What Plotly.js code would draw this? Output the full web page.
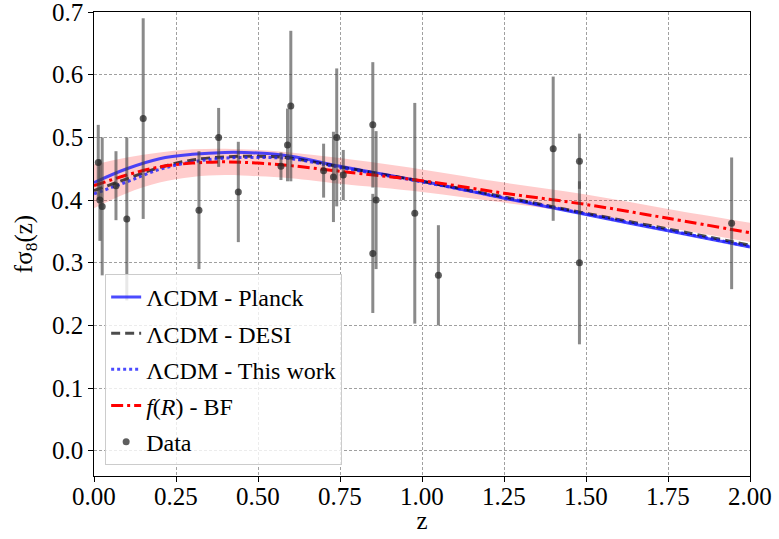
<!DOCTYPE html>
<html>
<head>
<meta charset="utf-8">
<script src="https://cdn.plot.ly/plotly-3.0.1.min.js"></script>
<style>
html,body{margin:0;padding:0;background:#fff;}
#chart{width:779px;height:539px;}
</style>
</head>
<body>
<div id="chart"></div>
<script>
// Model curves
const zModel = [0, 0.1, 0.2, 0.3, 0.4, 0.5, 0.6, 0.75, 1.0, 1.25, 1.5, 1.75, 2.0];
const planck = [0.428, 0.450, 0.466, 0.473, 0.476, 0.475, 0.470, 0.454, 0.430, 0.403, 0.377, 0.351, 0.325];
const desi = [0.415, 0.434, 0.452, 0.464, 0.469, 0.470, 0.467, 0.453, 0.430, 0.405, 0.379, 0.354, 0.328];
const thisWork = [0.410, 0.429, 0.449, 0.461, 0.467, 0.468, 0.466, 0.452, 0.429, 0.404, 0.378, 0.352, 0.326];
const fR = [0.423, 0.440, 0.453, 0.459, 0.461, 0.459, 0.455, 0.446, 0.431, 0.411, 0.393, 0.371, 0.348];
const fRUpper = [0.457, 0.468, 0.476, 0.481, 0.482, 0.480, 0.476, 0.467, 0.449, 0.428, 0.409, 0.386, 0.364];
const fRLower = [0.387, 0.411, 0.428, 0.437, 0.440, 0.438, 0.435, 0.426, 0.413, 0.396, 0.378, 0.356, 0.333];

// Data points
const zData = [0.013, 0.018, 0.025, 0.067, 0.10, 0.15, 0.32, 0.38, 0.44, 0.57, 0.59, 0.60, 0.70, 0.73, 0.74, 0.76, 0.85, 0.85, 0.86, 0.978, 1.05, 1.40, 1.48, 1.48, 1.944];
const fsData = [0.46, 0.40, 0.39, 0.423, 0.37, 0.53, 0.384, 0.50, 0.413, 0.454, 0.488, 0.55, 0.447, 0.437, 0.50, 0.44, 0.52, 0.315, 0.40, 0.379, 0.28, 0.482, 0.462, 0.30, 0.363];
const fsErr = [0.06, 0.065, 0.11, 0.055, 0.13, 0.16, 0.094, 0.047, 0.08, 0.022, 0.058, 0.12, 0.043, 0.072, 0.11, 0.04, 0.10, 0.095, 0.11, 0.176, 0.08, 0.115, 0.044, 0.13, 0.105];

// Tick values and labels
const xTicks = [0, 0.25, 0.5, 0.75, 1.0, 1.25, 1.5, 1.75, 2.0];
const xTickLabels = ['0.00', '0.25', '0.50', '0.75', '1.00', '1.25', '1.50', '1.75', '2.00'];
const yTicks = [0.0, 0.1, 0.2, 0.3, 0.4, 0.5, 0.6, 0.7];
const yTickLabels = ['0.0', '0.1', '0.2', '0.3', '0.4', '0.5', '0.6', '0.7'];

const FONT = "Liberation Serif";
const TICKSIZE = 25;

const traces = [
  {x: zModel, y: fRLower, mode: 'lines', line: {width: 0, shape: 'spline'}, showlegend: false, hoverinfo: 'skip', legendgroup: 'b1'},
  {x: zModel, y: fRUpper, mode: 'lines', line: {width: 0, shape: 'spline'}, fill: 'tonexty', fillcolor: 'rgba(255,0,0,0.2)', showlegend: false, hoverinfo: 'skip', legendgroup: 'b2'},
  {x: zModel, y: planck, mode: 'lines', name: 'ΛCDM - Planck', legendgroup: 'g1', line: {color: 'rgba(30,30,255,0.8)', width: 3, shape: 'spline'}},
  {x: zModel, y: desi, mode: 'lines', name: 'ΛCDM - DESI', legendgroup: 'g2', line: {color: 'rgba(0,0,0,0.7)', width: 3, dash: '9px,5px', shape: 'spline'}},
  {x: zModel, y: thisWork, mode: 'lines', name: 'ΛCDM - This work', legendgroup: 'g3', line: {color: 'rgba(30,30,255,0.8)', width: 3, dash: 'dot', shape: 'spline'}},
  {x: zModel, y: fR, mode: 'lines', name: '<i>f</i>(<i>R</i>) - BF', legendgroup: 'g4', line: {color: '#ff0000', width: 3, dash: '12px,4px,3px,4px', shape: 'spline'}},
  {x: zData, y: fsData, mode: 'markers', name: 'Data', legendgroup: 'g5',
   marker: {color: 'rgba(40,40,40,0.75)', size: 7},
   error_y: {type: 'data', array: fsErr, visible: true, color: 'rgba(60,60,60,0.6)', thickness: 3, width: 0}}
];

// Tick labels placed through the axes' own scales
const annotations = [];
xTicks.forEach((v, i) => annotations.push({
  x: v, xref: 'x', y: 0, yref: 'paper', yanchor: 'top', xanchor: 'center', yshift: -5,
  text: xTickLabels[i], showarrow: false, font: {family: FONT, size: TICKSIZE, color: '#000'}
}));
yTicks.forEach((v, i) => annotations.push({
  x: 0, xref: 'paper', y: v, yref: 'y', xanchor: 'right', yanchor: 'middle', xshift: -9,
  text: yTickLabels[i], showarrow: false, font: {family: FONT, size: TICKSIZE, color: '#000'}
}));

const layout = {
  width: 779, height: 539,
  margin: {l: 94, r: 29, t: 12, b: 63},
  paper_bgcolor: '#fff', plot_bgcolor: '#fff',
  font: {family: FONT, color: '#000', size: 24},
  xaxis: {
    range: [0, 2], tickvals: xTicks, showticklabels: false,
    showline: true, linecolor: '#000', linewidth: 1.2, mirror: true,
    ticks: 'outside', ticklen: 5, tickwidth: 1, tickcolor: '#000',
    showgrid: true, gridcolor: '#a0a0a0', griddash: '3px,2px', gridwidth: 1, zeroline: false,
    title: {text: 'z', font: {family: FONT, size: 25}, standoff: 30}
  },
  yaxis: {
    range: [-0.04, 0.7], tickvals: yTicks, showticklabels: false,
    showline: true, linecolor: '#000', linewidth: 1.2, mirror: true,
    ticks: 'outside', ticklen: 5, tickwidth: 1, tickcolor: '#000',
    showgrid: true, gridcolor: '#a0a0a0', griddash: '3px,2px', gridwidth: 1, zeroline: false,
    title: {text: 'fσ<sub>8</sub>(z)', font: {family: FONT, size: 25}, standoff: 48}
  },
  annotations: annotations,
  legend: {x: 0.017, y: 0.024, xanchor: 'left', yanchor: 'bottom', traceorder: 'grouped',
    bgcolor: 'rgba(255,255,255,0.8)', bordercolor: '#cccccc', borderwidth: 1,
    font: {family: FONT, size: 24}, tracegroupgap: 2},
  showlegend: true
};

Plotly.newPlot('chart', traces, layout, {displayModeBar: false});
</script>
</body>
</html>
